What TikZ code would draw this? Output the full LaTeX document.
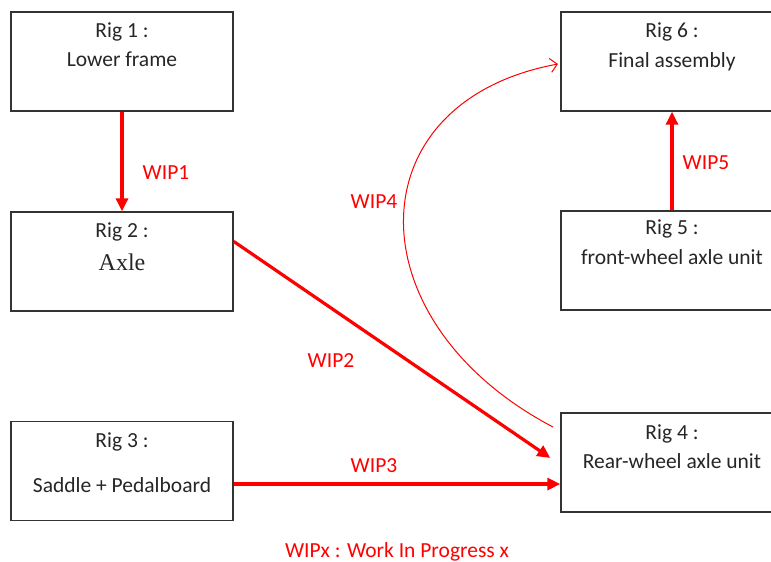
\documentclass[tikz,border=0pt]{standalone}
\usepackage{fontspec}
\setmainfont{Carlito}
\newfontfamily\axlefont{Liberation Serif}
\usetikzlibrary{arrows.meta,calc}
\definecolor{wipred}{HTML}{FF0000}
\definecolor{boxline}{HTML}{333333}
\definecolor{txtgray}{HTML}{262626}
\tikzset{
  rigbox/.style={draw=boxline, line width=1.4pt, minimum width=222pt, minimum height=99pt, inner sep=0pt},
  rigtxt/.style={font=\fontsize{21.5}{25}\selectfont, text=txtgray, inner sep=0pt, anchor=center},
  wiplbl/.style={font=\fontsize{21.5}{25}\selectfont, text=wipred, inner sep=0pt},
  thickarrow/.style={draw=wipred, line width=3.2pt, -{Triangle[length=13pt,width=12pt]}},
  thinarrow/.style={draw=wipred, line width=1pt, -{Straight Barb[length=7pt,width=14pt]}}
}
\begin{document}
\begin{tikzpicture}[x=1pt,y=-1pt]
\useasboundingbox (0,0) rectangle (771,562);
\fill[white] (0,0) rectangle (771,562);
% boxes
\node[rigbox] (rig1) at (122,61.5) {};
\node[rigbox] (rig2) at (122,261.5) {};
\node[rigbox] (rig3) at (122,471) {};
\node[rigbox] (rig4) at (672,462.5) {};
\node[rigbox] (rig5) at (672,260.5) {};
\node[rigbox] (rig6) at (672,61.5) {};
% texts
\node[rigtxt] (rig1a) at ([yshift=-21pt]rig1.north) {Rig 1 :};
\node[rigtxt] (rig1b) at ([yshift=-48pt]rig1.north) {Lower frame};
\node[rigtxt] (rig2a) at ([yshift=-21pt]rig2.north) {Rig 2 :};
\node[rigtxt, font=\axlefont\fontsize{24}{27}\selectfont] (rig2b) at ([yshift=-51pt]rig2.north) {Axle};
\node[rigtxt] (rig3a) at ([yshift=-21pt]rig3.north) {Rig 3 :};
\node[rigtxt] (rig3b) at ([yshift=-64pt]rig3.north) {Saddle + Pedalboard};
\node[rigtxt] (rig4a) at ([yshift=-22pt]rig4.north) {Rig 4 :};
\node[rigtxt] (rig4b) at ([yshift=-49pt]rig4.north) {Rear-wheel axle unit};
\node[rigtxt] (rig5a) at ([yshift=-19pt]rig5.north) {Rig 5 :};
\node[rigtxt] (rig5b) at ([yshift=-47pt]rig5.north) {front-wheel axle unit};
\node[rigtxt] (rig6a) at ([yshift=-21pt]rig6.north) {Rig 6 :};
\node[rigtxt] (rig6b) at ([yshift=-50pt]rig6.north) {Final assembly};
% connector endpoints
\coordinate (w2s) at ($(rig2.north east)!0.3!(rig2.south east)$);
\coordinate (w2e) at ($(rig4.north west)!0.455!(rig4.south west)+(-10,0)$);
\coordinate (w3s) at ($(rig3.north east)!0.63!(rig3.south east)$);
\coordinate (w3e) at (rig4.west |- w3s);
\coordinate (w4s) at (553,427);
\coordinate (w4e) at (558,64);
% arrows
\draw[thickarrow] (rig1.south) -- (rig2.north);
\draw[thickarrow] (rig5.north) -- (rig6.south);
\draw[thickarrow] (w2s) -- (w2e);
\draw[thickarrow] (w3s) -- (w3e);
\draw[thinarrow] (w4s) .. controls (353,322) and (353,102) .. (w4e);
% labels
\node[wiplbl] (l1) at (166,173) {WIP1};
\node[wiplbl] (l5) at (706,163) {WIP5};
\node[wiplbl] (l4) at (374,202) {WIP4};
\node[wiplbl] (l2) at (331,361) {WIP2};
\node[wiplbl] (l3) at (374,466) {WIP3};
\node[wiplbl] (legend) at (397,552) {WIPx : Work In Progress x};
\end{tikzpicture}
\end{document}
